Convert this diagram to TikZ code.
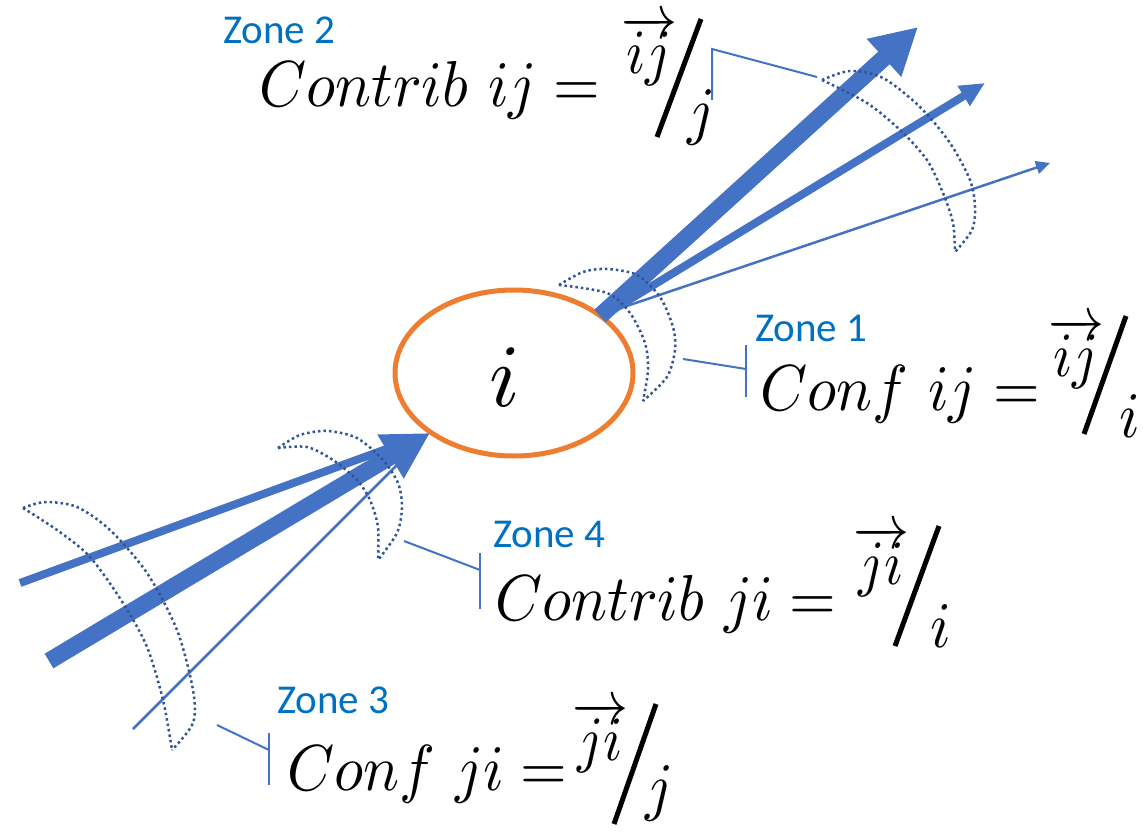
\documentclass[tikz,border=0pt]{standalone}
\usepackage{graphicx}
\usepackage{fontspec}
\newfontfamily\zonefont{Carlito}
\usetikzlibrary{arrows.meta,shapes.geometric}
\definecolor{arrblue}{HTML}{4472C4}
\definecolor{dotblue}{HTML}{2F5597}
\definecolor{zoneblue}{HTML}{0070C0}
\definecolor{orng}{HTML}{ED7D31}
\newcommand{\bigf}[1]{\scalebox{6.0}[6.5]{\fontsize{10}{12}\selectfont$#1$}}
\newcommand{\numf}[1]{\scalebox{5.6}[6.3]{\fontsize{10}{12}\selectfont$#1$}}
\begin{document}
\begin{tikzpicture}[x=1pt,y=-1pt,
  zone/.style={font=\zonefont\fontsize{41}{45}\selectfont, text=zoneblue, anchor=base west, inner sep=0pt},
  formula/.style={anchor=base west, inner sep=0pt},
  slashline/.style={black, line width=5pt},
  dots/.style={dotblue, line width=2.5pt, dash pattern=on 2.5pt off 3pt},
  callout/.style={arrblue, line width=2pt},
  bigarr/.style={arrblue, line width=17pt, -{Triangle[length=46pt,width=48pt]}},
  midarr/.style={arrblue, line width=8pt, -{Triangle[length=25pt,width=22pt]}},
  thinarr/.style={arrblue, line width=2.5pt, -{Triangle[length=14pt,width=13pt]}},
  shaft/.style={arrblue},
]
\useasboundingbox (0,0) rectangle (1148,832);

% central node
\node[draw=orng, line width=5pt, ellipse, minimum width=238pt, minimum height=166pt, inner sep=0pt] (ell) at (514,373) {};
\node[inner sep=0pt] (ilab) at (505,377) {\scalebox{8.9}{\fontsize{10}{12}\selectfont$i$}};

% outgoing arrows
\coordinate (o1s) at (600,316); \coordinate (o1e) at (918,27);
\coordinate (o2s) at (606,314); \coordinate (o2e) at (985,83);
\coordinate (o3s) at (612,311); \coordinate (o3e) at (1050,163);
\draw[thinarr] (o3s) -- (o3e);
\draw[midarr] (o2s) -- (o2e);
\draw[bigarr] (o1s) -- (o1e);

% incoming arrows
\coordinate (n2s) at (20,583); \coordinate (n2e) at (400,444);
\coordinate (n3s) at (133,729); \coordinate (n3e) at (400,462);
\coordinate (n1s) at (49,661); \coordinate (n1e) at (430,433);
\draw[shaft, line width=2.5pt] (n3s) -- (n3e);
\draw[shaft, line width=8pt] (n2s) -- (n2e);
\draw[bigarr] (n1s) -- (n1e);

% dotted zones
% zone 1
\draw[dots] plot[smooth] coordinates {(559,285) (583,272) (607,269) (637,275) (660,297) (673,327) (675,350) (667,377) (643,401)};
\draw[dots] plot[smooth] coordinates {(559,285) (607,293) (630,313) (645,343) (648,370) (643,401)};
% zone 2
\draw[dots] plot[smooth] coordinates {(822,80) (850,71) (883,78) (920,107) (950,143) (970,180) (975,207) (972,230) (955,252)};
\draw[dots] plot[smooth] coordinates {(822,80) (867,103) (900,130) (927,160) (943,193) (953,223) (955,252)};
% zone 4
\draw[dots] plot[smooth] coordinates {(278,448) (300,435) (327,431) (357,438) (383,460) (398,483) (402,507) (397,533) (378,560)};
\draw[dots] plot[smooth] coordinates {(278,448) (307,447) (333,460) (357,480) (370,500) (378,527) (378,560)};
% zone 3
\draw[dots] plot[smooth] coordinates {(23,508) (45,502) (77,507) (110,530) (147,573) (177,630) (193,690) (193,723) (172,750)};
\draw[dots] plot[smooth] coordinates {(23,508) (57,530) (90,557) (123,603) (147,647) (163,700) (172,750)};

% callouts
\coordinate (c1a) at (683,359); \coordinate (c1b) at (746,369); \coordinate (c1t) at (746,345); \coordinate (c1u) at (746,397);
\draw[callout] (c1a) -- (c1b); \draw[callout] (c1t) -- (c1u);
\coordinate (c2a) at (817,77); \coordinate (c2b) at (712,49); \coordinate (c2u) at (712,100);
\draw[callout] (c2a) -- (c2b) -- (c2u);
\coordinate (c4a) at (404,541); \coordinate (c4b) at (480,570); \coordinate (c4t) at (480,553); \coordinate (c4u) at (480,609);
\draw[callout] (c4a) -- (c4b); \draw[callout] (c4t) -- (c4u);
\coordinate (c3a) at (217,725); \coordinate (c3b) at (269,750); \coordinate (c3t) at (269,733); \coordinate (c3u) at (269,785);
\draw[callout] (c3a) -- (c3b); \draw[callout] (c3t) -- (c3u);

% Zone 2 formula
\node[zone] (z2) at (223,44) {Zone 2};
\node[formula] (f2) at (259,107) {\bigf{Contrib\ ij =}};
\node[formula] (f2n) at (621,74) {\numf{\overrightarrow{ij}}};
\coordinate (f2sb) at (657,137); \coordinate (f2st) at (701,19);
\draw[slashline] (f2sb) -- (f2st);
\node[formula] (f2d) at (687,132) {\bigf{j}};

% Zone 1 formula
\node[zone] (z1) at (755,341) {Zone 1};
\node[formula] (f1) at (760,410) {\bigf{Conf\ ij =}};
\node[formula] (f1n) at (1048,376) {\numf{\overrightarrow{ij}}};
\coordinate (f1sb) at (1084,434); \coordinate (f1st) at (1126,316);
\draw[slashline] (f1sb) -- (f1st);
\node[formula] (f1d) at (1119,437) {\bigf{i}};

% Zone 4 formula
\node[zone] (z4) at (493,547) {Zone 4};
\node[formula] (f4) at (495,620) {\bigf{Contrib\ ji =}};
\node[formula] (f4n) at (853,584) {\numf{\overrightarrow{ji}}};
\coordinate (f4sb) at (895,646); \coordinate (f4st) at (939,526);
\draw[slashline] (f4sb) -- (f4st);
\node[formula] (f4d) at (930,647) {\bigf{i}};

% Zone 3 formula
\node[zone] (z3) at (277,713) {Zone 3};
\node[formula] (f3) at (287,790) {\bigf{Conf\ ji =}};
\node[formula] (f3n) at (572,760) {\numf{\overrightarrow{ji}}};
\coordinate (f3sb) at (614,824); \coordinate (f3st) at (656,704);
\draw[slashline] (f3sb) -- (f3st);
\node[formula] (f3d) at (645,808) {\bigf{j}};
\end{tikzpicture}
\end{document}
